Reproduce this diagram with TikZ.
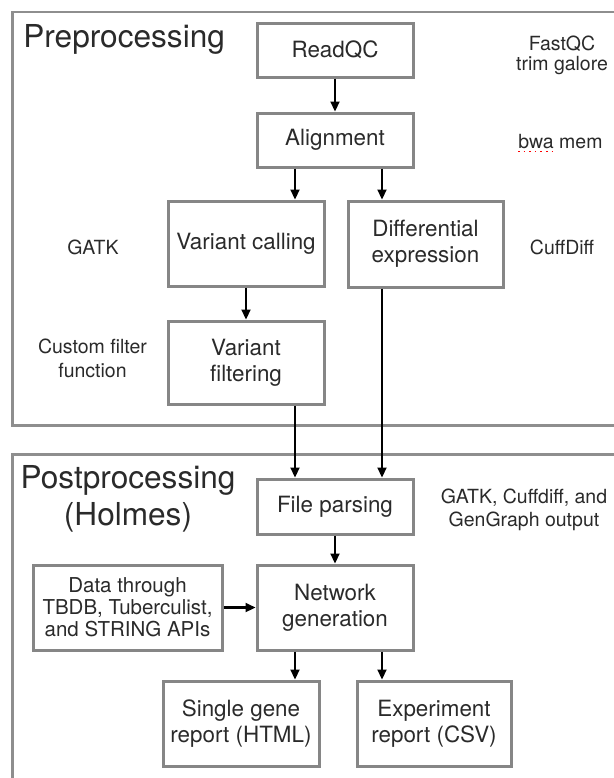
\documentclass[tikz,border=0pt]{standalone}
\usepackage{fontspec}
\setmainfont{TeX Gyre Heros}
\usetikzlibrary{arrows.meta}
\definecolor{boxgray}{HTML}{868686}
\definecolor{framegray}{HTML}{8E8E8E}
\definecolor{txt}{HTML}{2A2A2A}
\begin{document}
\begin{tikzpicture}[x=.5pt,y=-.5pt,
  box/.style={draw=boxgray,line width=1.5pt,minimum width=78pt,align=center,text=txt,font=\fontsize{11.2}{12.8}\selectfont},
  lab/.style={align=center,text=txt,inner sep=0pt,font=\fontsize{9.75}{11.5}\selectfont},
  head/.style={align=center,text=txt,inner sep=0pt,font=\fontsize{15.8}{18.5}\selectfont},
  arr/.style={line width=1.1pt,-{Triangle[length=5pt,width=4.5pt]}},
  frame/.style={draw=framegray,line width=1.2pt}]
\useasboundingbox (0,0) rectangle (614,778);
\draw[frame] (12.5,12) rectangle (640,425.5);
\draw[frame] (12.5,454.5) rectangle (640,800);

\node[head,anchor=base west] (P1) at (23,47) {Preprocessing};
\node[head] (P2) at (128,498.5) {Postprocessing\\(Holmes)};

\node[box,minimum height=27pt] (Q) at (335,50) {ReadQC};
\node[box,minimum height=27pt] (A) at (335,140) {Alignment};
\node[box,minimum height=42.5pt] (V1) at (246,243.5) {Variant calling};	\node[box,minimum height=43pt,minimum width=77.5pt] (D) at (425.5,244) {Differential\\expression};
\node[box,minimum height=41.5pt] (V2) at (246,362.5) {Variant\\filtering};
\node[box,minimum height=27.5pt] (F) at (335,506.5) {File parsing};
\node[box,minimum height=42.5pt,minimum width=94.5pt,font=\fontsize{10.25}{11}\selectfont] (T) at (127.5,607.5) {Data through\\TBDB, Tuberculist,\\and STRING APIs};
\node[box,minimum height=42.5pt] (N) at (335,607.5) {Network\\generation};
\node[box,minimum height=42.5pt] (S1) at (241,723.5) {Single gene\\report (HTML)};	\node[box,minimum height=42.5pt,minimum width=77pt] (S2) at (434,723.5) {Experiment\\report (CSV)};

\node[lab,font=\fontsize{9.75}{10}\selectfont] (L1) at (562,55) {FastQC\\trim galore};
\node[lab,anchor=base west] (L2) at (518,148) {bwa mem};
\node[lab] (L3) at (93,247) {GATK};	\node[lab] (L4) at (562,247) {CuffDiff};
\node[lab,font=\fontsize{9.75}{12}\selectfont] (L5) at (92.5,358) {Custom filter\\function};
\node[lab] (L6) at (524,509.5) {GATK, Cuffdiff, and\\GenGraph output};
\draw[red,dotted,line width=.8pt] ([yshift=-1.8pt]L2.base west) -- ++(19pt,0);

\coordinate (cA) at (295,0);	\coordinate (cB) at (382,0);

\draw[arr] (Q)--(A);
\draw[arr] (A.south -| cA)--(V1.north -| cA);
\draw[arr] (A.south -| cB)--(D.north -| cB);
\draw[arr] (V1)--(V2);
\draw[arr] (V2.south -| cA)--(F.north -| cA);
\draw[arr] (D.south -| cB)--(F.north -| cB);
\draw[arr] (F)--(N);
\draw[arr] (T)--(N);
\draw[arr] (N.south -| cA)--(S1.north -| cA);
\draw[arr] (N.south -| cB)--(S2.north -| cB);

\end{tikzpicture}
\end{document}
